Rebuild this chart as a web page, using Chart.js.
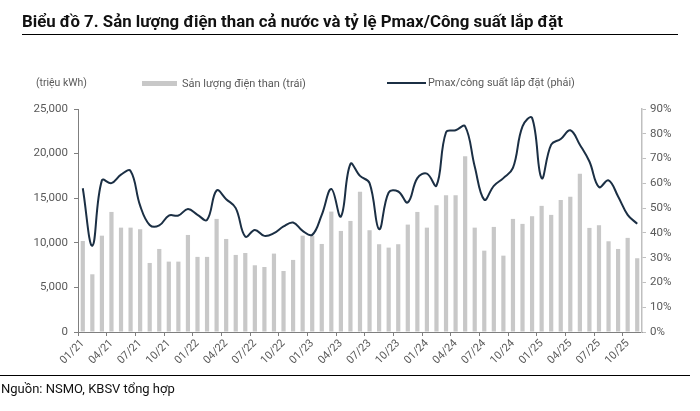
<!DOCTYPE html>
<html>
<head>
<meta charset="utf-8">
<script src="https://cdn.jsdelivr.net/npm/chart.js@4.4.0/dist/chart.umd.min.js"></script>
<style>
  html, body { margin: 0; padding: 0; background: #fff; }
  body { width: 700px; height: 411px; position: relative; overflow: hidden; font-family: Roboto, 'Noto Sans', sans-serif; }
  #chartBox { position: absolute; left: 0; top: 0; width: 700px; height: 411px; }
  .txt { position: absolute; white-space: nowrap; line-height: 1; }
  #title { left: 22px; top: 13px; font-size: 18px; font-weight: 700; color: #111; }
  .rule { position: absolute; height: 0; border-top: 1.5px solid #000; }
  #titleRule { left: 22px; width: 656px; top: 34px; }
  #footRule { left: 0; width: 690px; top: 375px; }
  .legend { font-size: 11px; color: #595959; top: 78px; }
  #unit { left: 36px; }
  #barKey { position: absolute; left: 142px; top: 81px; width: 35px; height: 5px; background: #c8c8c8; }
  #barText { left: 182px; }
  #lineKey { position: absolute; left: 387px; top: 82px; width: 39px; height: 2px; background: #1b2f44; }
  #lineText { left: 428px; }
  #source { left: 1px; top: 382px; font-size: 13px; color: #111; }
</style>
</head>
<body>
<div id="chartBox"><canvas id="coalChart" width="700" height="411"></canvas></div>
<div class="txt" id="title">Biểu đồ 7. Sản lượng điện than cả nước và tỷ lệ Pmax/Công suất lắp đặt</div>
<div class="rule" id="titleRule"></div>
<div class="txt legend" id="unit">(triệu kWh)</div>
<div id="barKey"></div>
<div class="txt legend" id="barText">Sản lượng điện than (trái)</div>
<div id="lineKey"></div>
<div class="txt legend" id="lineText">Pmax/công suất lắp đặt (phải)</div>
<div class="rule" id="footRule"></div>
<div class="txt" id="source">Nguồn: NSMO, KBSV tổng hợp</div>

<script>
const months = [
  '01/21', '02/21', '03/21', '04/21', '05/21', '06/21', '07/21', '08/21', '09/21', '10/21', '11/21', '12/21',
  '01/22', '02/22', '03/22', '04/22', '05/22', '06/22', '07/22', '08/22', '09/22', '10/22', '11/22', '12/22',
  '01/23', '02/23', '03/23', '04/23', '05/23', '06/23', '07/23', '08/23', '09/23', '10/23', '11/23', '12/23',
  '01/24', '02/24', '03/24', '04/24', '05/24', '06/24', '07/24', '08/24', '09/24', '10/24', '11/24', '12/24',
  '01/25', '02/25', '03/25', '04/25', '05/25', '06/25', '07/25', '08/25', '09/25', '10/25', '11/25'
];

// triệu kWh
const coalOutput = [
  10200, 6470, 10800, 13460, 11700, 11700, 11520, 7740, 9310, 7890, 7890, 10880,
  8420, 8420, 12680, 10430, 8640, 8860, 7480, 7290, 8790, 6840, 8080, 10800,
  10800, 9870, 13500, 11330, 12450, 15710, 11410, 9840, 9460, 9840, 12040, 13460,
  11700, 14210, 15330, 15330, 19710, 11700, 9120, 11780, 8560, 12680, 12120, 12980,
  14140, 13130, 14810, 15150, 17730, 11670, 11970, 10170, 9310, 10550, 8270
];

// %
const pmaxRatio = [
  58, 34.8, 61.2, 60.1, 63.5, 65, 51, 43.2, 43, 47, 47, 49.6,
  47.3, 45.3, 57.1, 53.6, 50, 38.5, 41.2, 38.8, 39.9, 42.6, 44.2, 40.8,
  39.2, 47.3, 57.7, 46.6, 67.8, 63, 60.1, 41.5, 56.3, 56.7, 52.3, 62.1,
  63.9, 59.1, 80.6, 81.4, 83, 66.8, 53.4, 59, 62.1, 66.2, 83, 86.4,
  62.1, 75.6, 77.9, 81.4, 75.6, 68.8, 58.5, 61.2, 54.7, 47.3, 43.7
];

const family = 'Roboto, "Noto Sans", sans-serif';
const axisText = '#595959';

// stretch the html texts to the widths in the picture
function fitWidth(id, target) {
  const el = document.getElementById(id);
  const cs = getComputedStyle(el);
  const c = document.createElement('canvas').getContext('2d');
  const size = parseFloat(cs.fontSize);
  c.font = cs.fontWeight + ' ' + size + 'px ' + cs.fontFamily;
  const w = c.measureText(el.textContent).width;
  el.style.fontSize = (size * target / w).toFixed(2) + 'px';
}
fitWidth('title', 541);
fitWidth('unit', 51);
fitWidth('barText', 124);
fitWidth('lineText', 147);

const ctx = document.getElementById('coalChart').getContext('2d');
new Chart(ctx, {
  data: {
    labels: months,
    datasets: [
      {
        type: 'line',
        label: 'Pmax/công suất lắp đặt (phải)',
        data: pmaxRatio,
        yAxisID: 'yRight',
        borderColor: '#1b2f44',
        borderWidth: 2,
        pointRadius: 0,
        tension: 0.4,
        fill: false,
        order: 0
      },
      {
        type: 'bar',
        label: 'Sản lượng điện than (trái)',
        data: coalOutput,
        yAxisID: 'yLeft',
        backgroundColor: '#c8c8c8',
        barPercentage: 0.44,
        categoryPercentage: 1,
        order: 1
      }
    ]
  },
  options: {
    responsive: false,
    animation: false,
    layout: { padding: { top: 109, left: 0, right: 0, bottom: 0 } },
    plugins: { legend: { display: false }, tooltip: { enabled: false } },
    scales: {
      x: {
        grid: {
          offset: true,
          drawOnChartArea: false,
          tickLength: 4,
          color: c => (c.index % 3 === 0 ? '#7f7f7f' : 'rgba(0,0,0,0)')
        },
        border: { color: '#7f7f7f', width: 1 },
        ticks: {
          autoSkip: false,
          minRotation: 45,
          maxRotation: 45,
          padding: 1,
          color: axisText,
          font: { family: family, size: 11 },
          callback: (v, i) => (i % 3 === 0 ? months[i] : '')
        },
        afterFit: s => { s.height = 79; }
      },
      yLeft: {
        position: 'left',
        min: 0,
        max: 25000,
        grid: { drawOnChartArea: false, tickLength: 4, color: '#7f7f7f' },
        border: { color: '#7f7f7f', width: 1 },
        ticks: {
          stepSize: 5000,
          padding: 6,
          color: axisText,
          font: { family: family, size: 11.5 },
          callback: v => v.toLocaleString('en-US')
        },
        afterFit: s => { s.width = 78; }
      },
      yRight: {
        position: 'right',
        min: 0,
        max: 90,
        grid: { drawOnChartArea: false, tickLength: 4, color: '#bfbfbf' },
        border: { color: '#bfbfbf', width: 1.5 },
        ticks: {
          stepSize: 10,
          padding: 4,
          color: axisText,
          font: { family: family, size: 11.5 },
          callback: v => v + '%'
        },
        afterFit: s => { s.width = 58; }
      }
    }
  }
});
</script>
</body>
</html>
